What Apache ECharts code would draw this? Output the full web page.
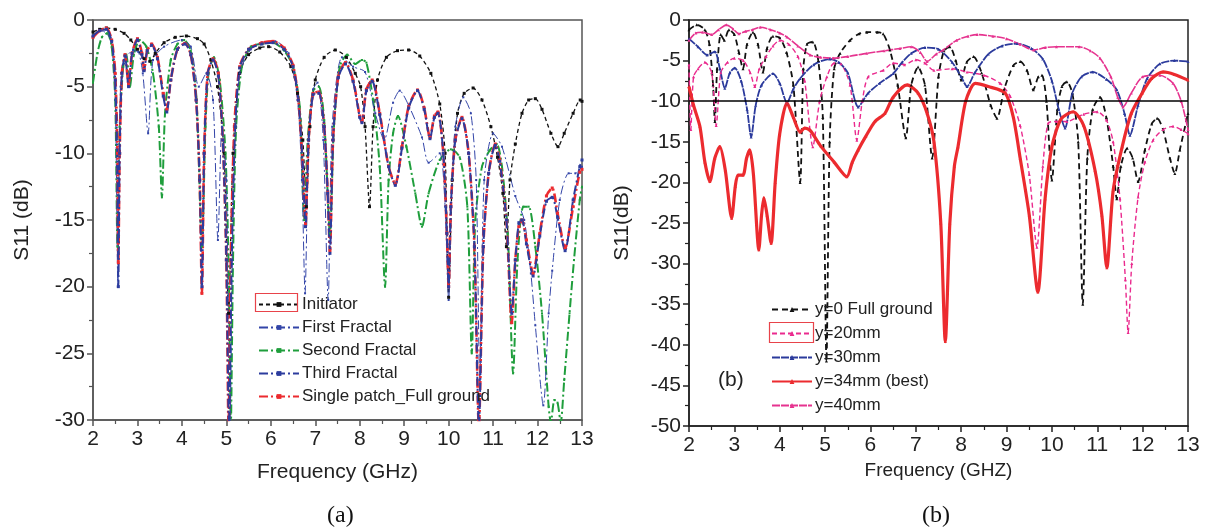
<!DOCTYPE html>
<html>
<head>
<meta charset="utf-8">
<script src="https://cdn.jsdelivr.net/npm/echarts@6/dist/echarts.min.js"></script>
<style>
html,body{margin:0;padding:0;background:#fff;}
#chart{width:1206px;height:529px;}
</style>
</head>
<body>
<div id="chart"></div>
<script>
// ---------- Panel (a) data: [frequency GHz, S11 dB] ----------
const initiator = [[2.0,-0.9],[2.15,-0.7],[2.3,-0.6],[2.5,-0.7],[2.7,-1.0],[2.85,-1.5],[3.0,-2.2],[3.15,-2.9],[3.28,-3.1],[3.4,-2.5],[3.6,-1.7],[3.85,-1.3],[4.1,-1.2],[4.35,-1.4],[4.5,-1.8],[4.65,-3],[4.8,-5],[4.95,-10],[5.05,-22],[5.15,-10],[5.3,-4],[5.5,-2.6],[5.75,-2.1],[5.95,-2.0],[6.2,-2.4],[6.45,-3.5],[6.6,-5.5],[6.72,-9],[6.8,-14],[6.88,-8],[7.0,-4.5],[7.2,-2.8],[7.45,-2.25],[7.7,-2.8],[7.9,-4],[8.02,-5],[8.12,-8],[8.22,-14],[8.3,-8],[8.4,-4.5],[8.6,-2.8],[8.85,-2.3],[9.1,-2.25],[9.35,-2.7],[9.6,-4],[9.8,-6.3],[9.92,-10],[10.0,-20.8],[10.08,-12],[10.2,-7],[10.35,-5.5],[10.55,-5.1],[10.75,-6],[10.95,-8],[11.1,-10.3],[11.22,-13],[11.3,-17],[11.38,-12],[11.5,-9.3],[11.65,-7],[11.8,-6],[11.95,-5.9],[12.1,-6.7],[12.3,-8.5],[12.46,-9.5],[12.6,-8.5],[12.8,-7],[12.96,-6.0],[13.0,-6.1]];

const firstFractal = [[2.0,-1.2],[2.2,-0.8],[2.4,-1.5],[2.5,-6],[2.56,-20],[2.62,-5],[2.75,-2.8],[2.9,-2.3],[3.02,-2.4],[3.12,-4],[3.24,-8.5],[3.35,-3],[3.6,-2],[4.0,-1.5],[4.2,-2],[4.38,-5],[4.55,-4],[4.7,-6],[4.81,-16.5],[4.9,-8],[5.0,-12],[5.08,-30.5],[5.16,-12],[5.3,-4],[5.55,-2.2],[5.8,-1.7],[6.1,-1.6],[6.4,-2.5],[6.6,-6],[6.7,-12],[6.77,-20.5],[6.85,-9],[6.95,-5.2],[7.05,-4.7],[7.18,-9],[7.29,-21],[7.38,-8],[7.6,-2.8],[7.85,-3.5],[8.12,-3.9],[8.35,-7],[8.55,-9],[8.75,-6.2],[8.9,-5.3],[9.1,-6.4],[9.4,-8.8],[9.55,-10.7],[9.8,-10],[9.92,-14],[10.0,-21],[10.08,-12],[10.15,-8],[10.33,-5.8],[10.5,-7],[10.62,-12],[10.7,-27],[10.8,-12],[11.0,-8.5],[11.2,-9.5],[11.5,-13.2],[11.7,-15],[11.85,-19],[11.95,-22.9],[12.13,-28.9],[12.25,-22],[12.33,-18.8],[12.5,-13.5],[12.7,-11.5],[12.85,-11.5],[13.0,-11]];

const secondFractal = [[2.0,-4.7],[2.1,-2.5],[2.2,-1.3],[2.32,-1.0],[2.42,-2],[2.5,-6],[2.55,-17],[2.6,-8],[2.68,-3.5],[2.75,-2.6],[2.83,-5.0],[2.92,-2.6],[3.05,-1.5],[3.2,-2.0],[3.35,-4.0],[3.48,-8],[3.55,-13.3],[3.62,-7],[3.75,-3],[3.9,-1.8],[4.05,-1.5],[4.2,-2.3],[4.33,-6],[4.45,-17],[4.53,-8],[4.6,-4],[4.72,-2.8],[4.85,-4.5],[4.98,-10],[5.06,-20],[5.1,-30.5],[5.15,-18],[5.22,-8],[5.35,-3.5],[5.55,-2.0],[5.8,-1.8],[6.05,-1.7],[6.3,-2.3],[6.5,-3.5],[6.65,-6.5],[6.75,-15],[6.83,-9],[6.95,-5.3],[7.08,-5],[7.2,-7.5],[7.33,-16],[7.42,-8],[7.55,-3.5],[7.72,-2.6],[7.9,-3.3],[8.05,-3.0],[8.15,-3.2],[8.3,-6],[8.45,-11],[8.57,-20],[8.65,-12],[8.75,-8.5],[8.86,-7.2],[9.05,-9.5],[9.25,-13],[9.4,-15.5],[9.55,-13],[9.8,-10.5],[10.05,-9.7],[10.25,-10.3],[10.42,-14],[10.52,-25],[10.6,-15],[10.75,-11],[10.92,-9.8],[11.08,-9.3],[11.2,-11],[11.33,-16],[11.45,-26.5],[11.55,-18],[11.68,-14],[11.8,-14],[11.95,-17],[12.1,-22],[12.25,-29],[12.3,-30.2],[12.38,-28.5],[12.45,-28.7],[12.52,-30.2],[12.6,-27],[12.72,-22],[12.82,-18],[12.95,-13.5],[13.0,-12.5]];

const thirdFractal = [[2.0,-1.2],[2.15,-0.8],[2.3,-0.7],[2.42,-1.6],[2.5,-4.5],[2.55,-11],[2.57,-20],[2.6,-10],[2.65,-4],[2.72,-2.7],[2.8,-5],[2.88,-2.5],[3.0,-1.5],[3.1,-2.6],[3.15,-3.8],[3.22,-2.3],[3.32,-1.9],[3.45,-2.9],[3.58,-5.7],[3.66,-6.9],[3.75,-4.5],[3.9,-2.2],[4.07,-1.8],[4.2,-2.6],[4.32,-6],[4.4,-12],[4.45,-20],[4.5,-10],[4.58,-4],[4.7,-3.0],[4.82,-4.2],[4.92,-9],[5.0,-18],[5.06,-30.5],[5.12,-18],[5.2,-8],[5.3,-3.6],[5.5,-2.2],[5.8,-1.8],[6.05,-1.7],[6.3,-2.2],[6.5,-3.5],[6.62,-6],[6.72,-11],[6.78,-15.5],[6.85,-9],[6.95,-5.6],[7.08,-5.5],[7.2,-8],[7.28,-13],[7.33,-17.5],[7.4,-9],[7.52,-4.3],[7.68,-3.3],[7.85,-4.6],[8.0,-7.3],[8.05,-7.7],[8.15,-5.3],[8.28,-4.6],[8.45,-7.1],[8.65,-11],[8.8,-12.4],[8.95,-9.6],[9.1,-6.6],[9.3,-5.3],[9.45,-6.7],[9.58,-8.9],[9.68,-7.3],[9.76,-7.0],[9.88,-10],[9.96,-16],[10.0,-20],[10.05,-14],[10.15,-9],[10.3,-7.4],[10.45,-10],[10.58,-17],[10.68,-30.5],[10.78,-17],[10.9,-11.5],[11.05,-9.4],[11.15,-10.6],[11.3,-15],[11.42,-22],[11.5,-18],[11.58,-15.2],[11.65,-15],[11.75,-16.8],[11.9,-19.2],[12.05,-16.2],[12.2,-13.6],[12.33,-13.3],[12.45,-14.8],[12.62,-17.3],[12.8,-13.5],[12.95,-11],[13.0,-10.5]];

const singlePatch = [[2.0,-1.3],[2.15,-0.8],[2.3,-0.6],[2.42,-1.5],[2.5,-4],[2.55,-10],[2.57,-18.2],[2.6,-10],[2.65,-4],[2.72,-2.6],[2.8,-4.8],[2.88,-2.5],[3.0,-1.4],[3.1,-2.5],[3.15,-3.7],[3.22,-2.3],[3.32,-1.8],[3.45,-2.8],[3.58,-5.5],[3.66,-6.7],[3.75,-4.5],[3.9,-2.2],[4.07,-1.75],[4.2,-2.6],[4.32,-6],[4.4,-12],[4.45,-20.5],[4.5,-10],[4.58,-4],[4.7,-2.9],[4.82,-4],[4.92,-9],[5.0,-18],[5.05,-30.5],[5.1,-18],[5.18,-8],[5.3,-3.5],[5.5,-2.2],[5.8,-1.7],[6.05,-1.6],[6.3,-2.1],[6.5,-3.4],[6.62,-6],[6.72,-11],[6.78,-15.3],[6.85,-9],[6.95,-5.5],[7.08,-5.4],[7.2,-8],[7.28,-13],[7.33,-17.3],[7.4,-9],[7.52,-4.2],[7.68,-3.2],[7.85,-4.5],[8.0,-7.2],[8.05,-7.6],[8.15,-5.2],[8.28,-4.5],[8.45,-7],[8.65,-11],[8.8,-12.3],[8.95,-9.5],[9.1,-6.5],[9.3,-5.25],[9.45,-6.6],[9.58,-8.8],[9.68,-7.2],[9.76,-6.9],[9.88,-10],[9.96,-16],[10.0,-20],[10.05,-14],[10.15,-9],[10.3,-7.3],[10.45,-10],[10.58,-17],[10.68,-30.5],[10.78,-17],[10.9,-11.5],[11.05,-9.3],[11.15,-10.5],[11.3,-15],[11.42,-22.7],[11.5,-18],[11.58,-15.5],[11.65,-15],[11.75,-16.5],[11.9,-19],[12.05,-16],[12.2,-13.2],[12.33,-12.6],[12.45,-14.5],[12.62,-17.1],[12.8,-14],[12.95,-11.4],[13.0,-11.2]];

// ---------- Panel (b) data ----------
const fullGround = [[2.0,-1.2],[2.17,-0.6],[2.35,-1.2],[2.45,-3],[2.53,-8],[2.57,-12.5],[2.62,-6],[2.7,-1.8],[2.78,-2.5],[2.88,-1.2],[3.0,-1.8],[3.1,-4],[3.19,-6],[3.28,-3],[3.41,-1.5],[3.52,-3],[3.63,-6.4],[3.72,-3.5],[3.85,-2],[4.0,-2.2],[4.15,-4],[4.3,-8],[4.45,-20],[4.52,-6],[4.6,-3],[4.73,-2.7],[4.85,-5],[4.95,-12],[5.03,-42],[5.1,-15],[5.2,-6],[5.33,-4.1],[5.55,-2.5],[5.75,-1.7],[5.92,-1.5],[6.15,-1.5],[6.28,-1.7],[6.43,-3.7],[6.6,-8],[6.78,-14.5],[6.9,-8],[7.05,-5.8],[7.2,-8],[7.36,-17],[7.5,-7],[7.62,-3.8],[7.75,-3.3],[7.88,-5],[8.0,-7.4],[8.12,-5.2],[8.27,-4.5],[8.45,-6.5],[8.65,-10.5],[8.79,-12.1],[8.95,-8.5],[9.15,-5.6],[9.3,-5.1],[9.45,-6.2],[9.59,-8.6],[9.7,-7],[9.78,-6.8],[9.88,-10],[10.0,-19.7],[10.12,-11],[10.22,-8.2],[10.33,-7.6],[10.45,-9],[10.58,-15],[10.68,-35],[10.78,-17],[10.9,-11],[11.06,-9.5],[11.2,-12],[11.35,-18],[11.43,-22],[11.52,-18],[11.66,-15.8],[11.78,-17],[11.9,-19.9],[12.05,-16],[12.2,-12.8],[12.32,-12.1],[12.45,-13.5],[12.6,-17],[12.71,-18.9],[12.82,-16],[13.0,-11.5]];

const y20 = [[2.0,-5.5],[2.04,-13.5],[2.1,-7],[2.2,-6],[2.35,-5.2],[2.5,-6.5],[2.6,-13],[2.7,-6.5],[2.85,-5.2],[3.0,-4.7],[3.2,-5],[3.35,-6.5],[3.45,-8.2],[3.55,-6],[3.7,-4.5],[3.85,-3.2],[4.0,-2.5],[4.2,-3],[4.4,-4.5],[4.55,-7.5],[4.73,-15.6],[4.88,-10],[5.04,-7],[5.2,-5.3],[5.35,-5.4],[5.55,-8],[5.7,-14.8],[5.82,-10],[5.95,-7],[6.28,-6.2],[6.5,-5.3],[6.75,-5.5],[7.0,-4.9],[7.2,-5.3],[7.4,-6.2],[7.8,-6],[8.13,-6.4],[8.5,-6.8],[8.86,-7.8],[9.08,-9.4],[9.3,-13],[9.5,-19],[9.67,-28],[9.8,-18],[9.92,-12.7],[10.1,-12.5],[10.33,-12.5],[10.7,-11.6],[11.0,-11.3],[11.2,-12.3],[11.35,-15],[11.5,-22],[11.62,-32],[11.68,-38.5],[11.76,-30],[11.9,-21.8],[12.05,-17.5],[12.23,-14.8],[12.45,-13.5],[12.67,-13.1],[12.85,-13.5],[13.0,-14]];

const y30 = [[2.0,-2.3],[2.2,-3.3],[2.4,-4.3],[2.57,-3.9],[2.68,-6],[2.79,-8.4],[2.9,-6.5],[3.01,-5.9],[3.15,-7.5],[3.28,-11],[3.37,-14.4],[3.47,-10.5],[3.6,-8],[3.85,-6.6],[4.0,-7.8],[4.16,-10.2],[4.3,-8.5],[4.45,-7.2],[4.75,-5.5],[5.1,-4.8],[5.3,-5.2],[5.5,-6.5],[5.73,-10.7],[5.95,-9],[6.2,-7.8],[6.5,-6.6],[6.7,-5.2],[6.9,-4.1],[7.2,-3.4],[7.5,-3.6],[7.8,-5.2],[8.0,-7],[8.13,-8.2],[8.3,-6.5],[8.6,-4.2],[8.9,-3.2],[9.23,-2.9],[9.55,-3.5],[9.8,-4.8],[10.0,-7.5],[10.15,-11],[10.29,-13.3],[10.45,-9],[10.65,-7],[10.9,-6.4],[11.2,-7.3],[11.43,-8.6],[11.6,-11.5],[11.72,-14.2],[11.9,-10.5],[12.1,-7.2],[12.38,-5.4],[12.7,-5.0],[13.0,-5.1]];

const y34 = [[2.0,-8.2],[2.1,-10.5],[2.24,-13.1],[2.35,-17.5],[2.46,-19.9],[2.57,-17],[2.68,-15.6],[2.8,-18.5],[2.94,-24.4],[3.02,-20.5],[3.08,-19.1],[3.19,-19.1],[3.27,-17],[3.34,-16],[3.42,-19],[3.54,-28.3],[3.6,-24],[3.65,-21.9],[3.72,-24],[3.81,-27.5],[3.9,-20],[4.0,-14],[4.16,-10.2],[4.3,-12],[4.45,-13.8],[4.55,-13.3],[4.67,-13.6],[4.9,-15.5],[5.2,-17.5],[5.48,-19.3],[5.6,-17.5],[5.73,-16],[5.9,-14.3],[6.1,-12.5],[6.32,-11.5],[6.5,-9.5],[6.81,-8.0],[7.05,-9],[7.25,-11.5],[7.4,-15],[7.55,-25],[7.65,-39.6],[7.75,-25],[7.85,-18],[7.93,-15.6],[8.1,-10],[8.31,-7.8],[8.6,-8.2],[8.97,-9.0],[9.15,-12],[9.3,-17],[9.5,-24],[9.69,-33.5],[9.85,-22],[10.0,-15.6],[10.2,-12.2],[10.47,-11.3],[10.7,-13],[10.95,-18.5],[11.1,-24],[11.21,-30.5],[11.35,-21],[11.55,-15.6],[11.75,-11.5],[11.99,-9.0],[12.2,-7.2],[12.45,-6.4],[12.7,-6.7],[13.0,-7.4]];

const y40 = [[2.0,-2.5],[2.15,-1.6],[2.3,-1.5],[2.5,-1.8],[2.65,-1.2],[2.83,-0.6],[2.97,-1.1],[3.1,-1.7],[3.25,-1.4],[3.4,-1.2],[3.57,-0.9],[3.8,-1.2],[4.0,-1.6],[4.16,-2.1],[4.4,-3.2],[4.67,-4.3],[4.9,-4.6],[5.18,-4.7],[5.5,-4.5],[5.92,-4.1],[6.3,-3.8],[6.65,-3.5],[6.9,-3.3],[7.1,-4.0],[7.25,-5.1],[7.45,-4.2],[7.6,-3.7],[7.9,-2.5],[8.15,-2.0],[8.35,-1.8],[8.7,-2.0],[9.0,-2.3],[9.3,-3.0],[9.6,-3.7],[9.85,-3.4],[10.1,-3.3],[10.6,-3.3],[10.85,-3.8],[11.06,-4.7],[11.3,-7],[11.45,-9.5],[11.57,-10.7],[11.75,-9],[12.0,-7.0],[12.38,-6.8],[12.67,-7.8],[12.85,-10],[13.0,-13.5]];

const refLevel = -10;
const freqTicks = [2, 13, 1];      // min, max, interval
const dbTicksA = [-30, 0, 5];
const dbTicksB = [-50, 0, 5];

const FONT = '"Liberation Sans", Arial, sans-serif';
const chart = echarts.init(document.getElementById('chart'), null, {renderer: 'canvas'});

function xAxisCfg(grid, name, color, nameGap, nameSize) {
  return {
    type: 'value', gridIndex: grid, min: freqTicks[0], max: freqTicks[1], interval: freqTicks[2],
    name: name, nameLocation: 'middle', nameGap: nameGap,
    nameTextStyle: {fontFamily: FONT, fontSize: nameSize, color: '#222'},
    axisLine: {show: true, onZero: false, lineStyle: {color: color, width: 1.5}},
    axisTick: {show: true, inside: false, length: 6, lineStyle: {color: color, width: 1.5}},
    minorTick: {show: true, splitNumber: 2, length: 4, lineStyle: {color: color, width: 1.2}},
    axisLabel: {fontFamily: FONT, fontSize: 21, color: '#222', margin: 9},
    splitLine: {show: false}
  };
}
function yAxisCfg(grid, name, color, t, nameGap) {
  return {
    type: 'value', gridIndex: grid, min: t[0], max: t[1], interval: t[2],
    name: name, nameLocation: 'middle', nameGap: nameGap, nameRotate: 90,
    nameTextStyle: {fontFamily: FONT, fontSize: 21, color: '#222'},
    axisLine: {show: true, onZero: false, lineStyle: {color: color, width: 1.5}},
    axisTick: {show: true, inside: false, length: 6, lineStyle: {color: color, width: 1.5}},
    minorTick: {show: true, splitNumber: 2, length: 4, lineStyle: {color: color, width: 1.2}},
    axisLabel: {fontFamily: FONT, fontSize: 21, color: '#222', margin: 8},
    splitLine: {show: false}
  };
}

function lineSeries(name, data, xi, color, width, type, symbol, symSize, extra) {
  return Object.assign({
    name: name, type: 'line', xAxisIndex: xi, yAxisIndex: xi, data: data,
    smooth: 0.25, clip: true,
    symbol: symbol, symbolSize: symSize, showSymbol: true, showAllSymbol: true,
    itemStyle: {color: color},
    lineStyle: {color: color, width: width, type: type},
    animation: false, z: 2
  }, extra || {});
}

const option = {
  backgroundColor: '#fff',
  animation: false,
  grid: [
    {left: 93, top: 20, width: 489, height: 400, show: true, borderColor: '#555', borderWidth: 1.5, backgroundColor: 'transparent'},
    {left: 689, top: 20, width: 499, height: 406, show: true, borderColor: '#222', borderWidth: 1.5, backgroundColor: 'transparent'}
  ],
  xAxis: [
    xAxisCfg(0, 'Frequency (GHz)', '#555', 42, 21),
    xAxisCfg(1, 'Frequency (GHZ)', '#222', 29, 19)
  ],
  yAxis: [
    yAxisCfg(0, 'S11 (dB)', '#555', dbTicksA, 60),
    yAxisCfg(1, 'S11(dB)', '#222', dbTicksB, 56)
  ],
  legend: [
    {
      orient: 'vertical', left: 253, top: 291, itemGap: 6, itemWidth: 40, itemHeight: 6,
      textStyle: {fontFamily: FONT, fontSize: 17, color: '#222', padding: [0,0,0,-2]},
      data: ['Initiator', 'First Fractal', 'Second Fractal', 'Third Fractal', 'Single patch_Full ground']
    },
    {
      orient: 'vertical', left: 766, top: 296, itemGap: 7, itemWidth: 40, itemHeight: 6,
      textStyle: {fontFamily: FONT, fontSize: 17, color: '#222', padding: [0,0,0,-2]},
      data: ['y=0 Full ground', 'y=20mm', 'y=30mm', 'y=34mm (best)', 'y=40mm']
    }
  ],
  graphic: [
    {type: 'rect', left: 253, top: 291, shape: {width: 42, height: 18}, style: {fill: 'none', stroke: '#e8434a', lineWidth: 1.2}, z: 100},
    {type: 'rect', left: 767, top: 320, shape: {width: 44, height: 20}, style: {fill: 'none', stroke: '#e8434a', lineWidth: 1.2}, z: 100},
    {type: 'text', left: 718, top: 370, style: {text: '(b)', font: '21px ' + FONT, fill: '#222'}, z: 100},
    {type: 'text', left: 327, top: 504, style: {text: '(a)', font: '24px "Liberation Serif", "Times New Roman", serif', fill: '#111'}, z: 100},
    {type: 'text', left: 922, top: 504, style: {text: '(b)', font: '24px "Liberation Serif", "Times New Roman", serif', fill: '#111'}, z: 100}
  ],
  series: [
    lineSeries('Initiator', initiator, 0, '#111111', 1.3, [4, 3], 'rect', 3),
    lineSeries('Second Fractal', secondFractal, 0, '#1f9e3c', 2, [9, 3, 2, 3], 'rect', 2),
    lineSeries('First Fractal', firstFractal, 0, '#3345a8', 1, [9, 3, 2, 3], 'rect', 2),
    lineSeries('Single patch_Full ground', singlePatch, 0, '#ec2b2f', 2.6, [9, 3, 2, 3], 'rect', 3),
    lineSeries('Third Fractal', thirdFractal, 0, '#2c3c9e', 2, [9, 3, 2, 3], 'rect', 3),

    lineSeries('y=0 Full ground', fullGround, 1, '#111111', 1.8, [6, 4], 'triangle', 3, {
      markLine: {silent: true, symbol: 'none', label: {show: false},
        lineStyle: {color: '#000', width: 1.6, type: 'solid'},
        data: [{yAxis: refLevel}]}
    }),
    lineSeries('y=20mm', y20, 1, '#ea2a8e', 1.4, [5, 3], 'triangle', 3),
    lineSeries('y=30mm', y30, 1, '#2b3a9c', 1.8, [8, 1], 'triangle', 3),
    lineSeries('y=40mm', y40, 1, '#e6338f', 1.6, [8, 1], 'triangle', 3),
    lineSeries('y=34mm (best)', y34, 1, '#ec2b2f', 3.2, 'solid', 'triangle', 3)
  ]
};
chart.setOption(option);
</script>
</body>
</html>
